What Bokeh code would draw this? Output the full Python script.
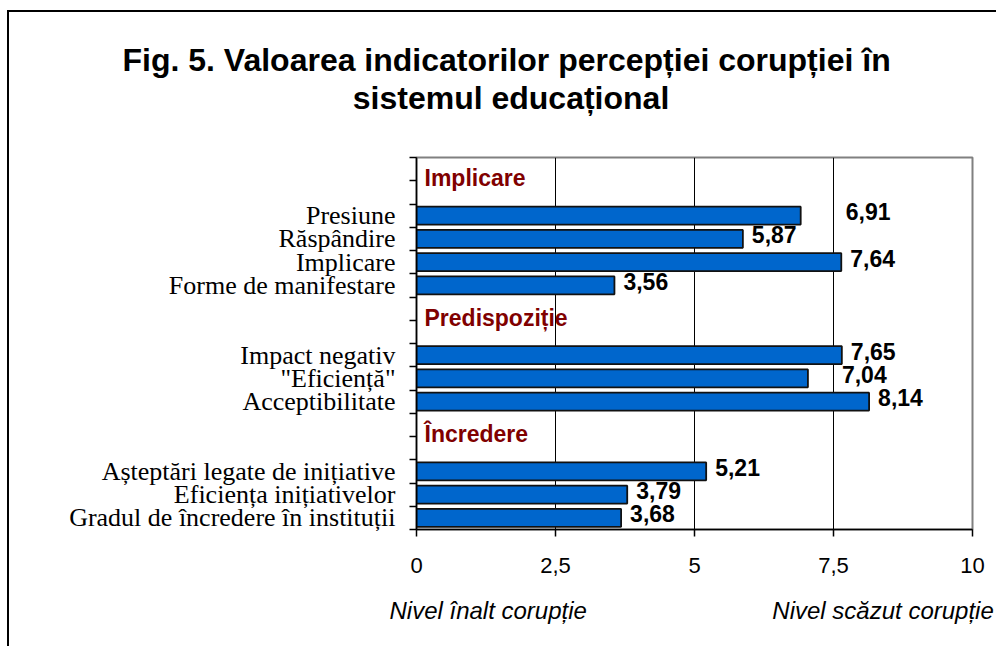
from bokeh.plotting import figure
from bokeh.models import Range1d, FixedTicker, Label, ColumnDataSource
from bokeh.core.properties import value
from bokeh.embed import file_html
from bokeh.resources import INLINE

# ---------------- data ----------------
title_lines = ["Fig. 5.  Valoarea indicatorilor percepției corupției în",
               "sistemul educațional"]
group_names = ["Implicare", "Predispoziție", "Încredere"]
group_sizes = [4, 3, 3]
item_labels = ["Presiune", "Răspândire", "Implicare", "Forme de manifestare",
               "Impact negativ", "\"Eficiență\"", "Acceptibilitate",
               "Așteptări legate de inițiative", "Eficiența inițiativelor",
               "Gradul de încredere în instituții"]
values = [6.91, 5.87, 7.64, 3.56, 7.65, 7.04, 8.14, 5.21, 3.79, 3.68]
x_ticks = [0, 2.5, 5, 7.5, 10]
x_tick_labels = ["0", "2,5", "5", "7,5", "10"]
axis_notes = ["Nivel înalt corupție", "Nivel scăzut corupție"]

# ---------------- layout of category slots ----------------
header_pos, item_pos = [], []
s = 0
for n in group_sizes:
    header_pos.append(s)
    item_pos.extend(range(s + 2, s + 2 + n))
    s += 2 + n
n_slots = s

label_gap_px = [45, 9, 9, 9, 9, 34, 9, 9, 9, 9]

SANS = "Liberation Sans"
SERIF = "Liberation Serif"

p = figure(width=989, height=636,
           x_range=Range1d(0, 10), y_range=Range1d(n_slots - 0.5, -0.5),
           output_backend="svg", toolbar_location=None, title=None,
           min_border_left=407, min_border_right=26,
           min_border_top=145, min_border_bottom=119)
p.margin = (10, 0, 0, 7)
p.styles = {"border-left": "2px solid black", "border-top": "2px solid black"}
p.background_fill_color = "white"
p.border_fill_color = "white"
p.outline_line_color = "#808080"
p.outline_line_width = 2

# axes
p.xaxis.ticker = FixedTicker(ticks=x_ticks)
p.xaxis.major_label_overrides = dict(zip(x_ticks, x_tick_labels))
p.xaxis.major_tick_out = 7
p.xaxis.major_tick_in = 0
p.xaxis.minor_tick_out = 0
p.xaxis.minor_tick_in = 0
p.xaxis.axis_line_width = 1.5
p.xaxis.axis_line_color = "black"
p.xaxis.major_tick_line_color = "black"
p.xaxis.major_tick_line_width = 1.5
p.xaxis.major_label_text_font = SANS
p.xaxis.major_label_text_font_size = "22px"
p.xaxis.major_label_text_color = "black"
p.xaxis.major_label_standoff = 21

p.yaxis.ticker = FixedTicker(ticks=item_pos,
                             minor_ticks=[i - 0.5 for i in range(n_slots + 1)])
p.yaxis.major_label_overrides = dict(zip(item_pos, item_labels))
p.yaxis.major_tick_out = 0
p.yaxis.major_tick_in = 0
p.yaxis.minor_tick_out = 7
p.yaxis.minor_tick_in = 0
p.yaxis.minor_tick_line_color = "black"
p.yaxis.minor_tick_line_width = 1.5
p.yaxis.axis_line_width = 1.5
p.yaxis.axis_line_color = "black"
p.yaxis.major_label_text_font = SERIF
p.yaxis.major_label_text_font_size = "26px"
p.yaxis.major_label_text_color = "black"
p.yaxis.major_label_standoff = 14

p.ygrid.visible = False
p.xgrid.ticker = FixedTicker(ticks=[2.5, 5, 7.5])
p.xgrid.grid_line_color = "black"
p.xgrid.grid_line_width = 1

# bars
src = ColumnDataSource(dict(
    y=item_pos, v=values,
    t=[f"{v:.2f}".replace(".", ",") for v in values],
    dx=label_gap_px))
p.hbar(y="y", left=0, right="v", height=0.77, source=src,
       fill_color="#0066CC", line_color="#111111", line_width=1.8)
p.text(x="v", y="y", text="t", x_offset="dx", y_offset=-4, source=src,
       text_font=value(SANS), text_font_style="bold", text_font_size="23px",
       text_align="left", text_baseline="middle", text_color="black")

# group headers
hsrc = ColumnDataSource(dict(y=[h + 0.4 for h in header_pos], t=group_names))
p.text(x=0, y="y", text="t", x_offset=8, source=hsrc,
       text_font=value(SANS), text_font_style="bold", text_font_size="23px",
       text_align="left", text_baseline="alphabetic", text_color="#800000")

# title (labels placed in the side panel so they are not clipped to the frame)
for yy, line in zip([-4.68, -3.08], title_lines):
    p.add_layout(Label(x=1.70, y=yy, text=line,
                       text_font=SANS, text_font_style="bold",
                       text_font_size="32px", text_align="center",
                       text_baseline="alphabetic", text_color="black"), "above")

# axis notes
for xx, note, side in zip([-0.486, 6.40], axis_notes, ["below", "above"]):
    p.add_layout(Label(x=xx, y=18.97, text=note, text_font=SANS,
                       text_font_style="italic", text_font_size="24px",
                       text_align="left", text_baseline="alphabetic",
                       text_color="black"), side)

open("out.html", "w").write(file_html(p, INLINE))
